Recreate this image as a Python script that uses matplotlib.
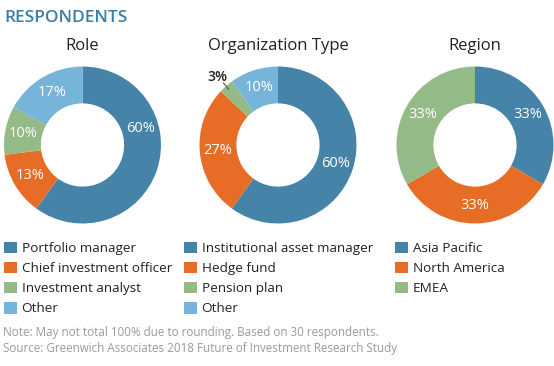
import numpy as np
import matplotlib
matplotlib.use("Agg")
import matplotlib.pyplot as plt

plt.rcParams['font.family'] = ['Open Sans', 'DejaVu Sans']

W, H = 554, 366

# Data
titles = ['Role', 'Organization Type', 'Region']
role_labels = ['Portfolio manager', 'Chief investment officer', 'Investment analyst', 'Other']
role_values = [60, 13, 10, 17]
org_labels = ['Institutional asset manager', 'Hedge fund', 'Pension plan', 'Other']
org_values = [60, 27, 3, 10]
region_labels = ['Asia Pacific', 'North America', 'EMEA']
region_values = [33, 33, 33]

colors = ['#4583A8', '#E76D26', '#94BA87', '#77B4DA']
head_blue = '#3B7DA8'
text_dark = '#222222'
note_grey = '#9A9A9A'

note = ("Note: May not total 100% due to rounding. Based on 30 respondents.\n"
        "Source: Greenwich Associates 2018 Future of Investment Research Study")

fig = plt.figure(figsize=(W / 100, H / 100), dpi=100)


def px_axes(x, y, w, h):
    # x, y is the top-left corner in pixels
    return fig.add_axes([x / W, 1 - (y + h) / H, w / W, h / H])


R = 78.5
centers = [(82.5, 145), (278, 145), (475, 145)]
legend_x = [4, 184, 395]
charts = [(role_labels, role_values), (org_labels, org_values), (region_labels, region_values)]

# the big slice of "Role" has its label moved up a bit
label_angle = {(0, 0): 16}

for i, ((labels, values), (cx, cy)) in enumerate(zip(charts, centers)):
    ax = px_axes(cx - R, cy - R, 2 * R, 2 * R)
    wedges, _ = ax.pie(values, colors=colors[:len(values)], startangle=90,
                       counterclock=False, radius=1,
                       wedgeprops=dict(width=0.47, linewidth=0))
    ax.set_xlim(-1, 1)
    ax.set_ylim(-1, 1)
    ax.axis('off')

    for j, (w, v) in enumerate(zip(wedges, values)):
        ang = np.deg2rad(label_angle.get((i, j), (w.theta1 + w.theta2) / 2))
        if v < 5:
            # small slice: label outside with a short leader
            ax.plot([0.95 * np.cos(ang), 1.05 * np.cos(ang)],
                    [0.95 * np.sin(ang), 1.05 * np.sin(ang)],
                    color='#555555', lw=0.8, clip_on=False)
            ax.text(1.16 * np.cos(ang), 1.16 * np.sin(ang), f'{v}%',
                    ha='center', va='center', fontsize=10, color=text_dark,
                    fontweight='semibold')
        else:
            r = 0.77
            ax.text(r * np.cos(ang), r * np.sin(ang), f'{v}%', ha='center',
                    va='center', fontsize=10.5, color='white',
                    fontweight='medium')

    fig.text(cx / W, 1 - 46 / H, titles[i], ha='center', va='center',
             fontsize=12, color=text_dark)

    fig.legend(wedges, labels, loc='upper left',
               bbox_to_anchor=(legend_x[i] / W, 1 - 241.5 / H),
               bbox_transform=fig.transFigure, frameon=False, fontsize=9.7,
               handlelength=0.95, handleheight=0.95, handletextpad=0.35,
               labelspacing=0.5, borderpad=0, borderaxespad=0,
               labelcolor=text_dark)

fig.text(4 / W, 1 - 18 / H, 'RESPONDENTS', ha='left', va='center',
         fontsize=12.5, fontweight='semibold', color=head_blue)

fig.text(3 / W, 1 - 340.5 / H, note, ha='left', va='center', fontsize=8.4,
         color=note_grey, linespacing=1.25)

fig.savefig('out.png', dpi=100)
